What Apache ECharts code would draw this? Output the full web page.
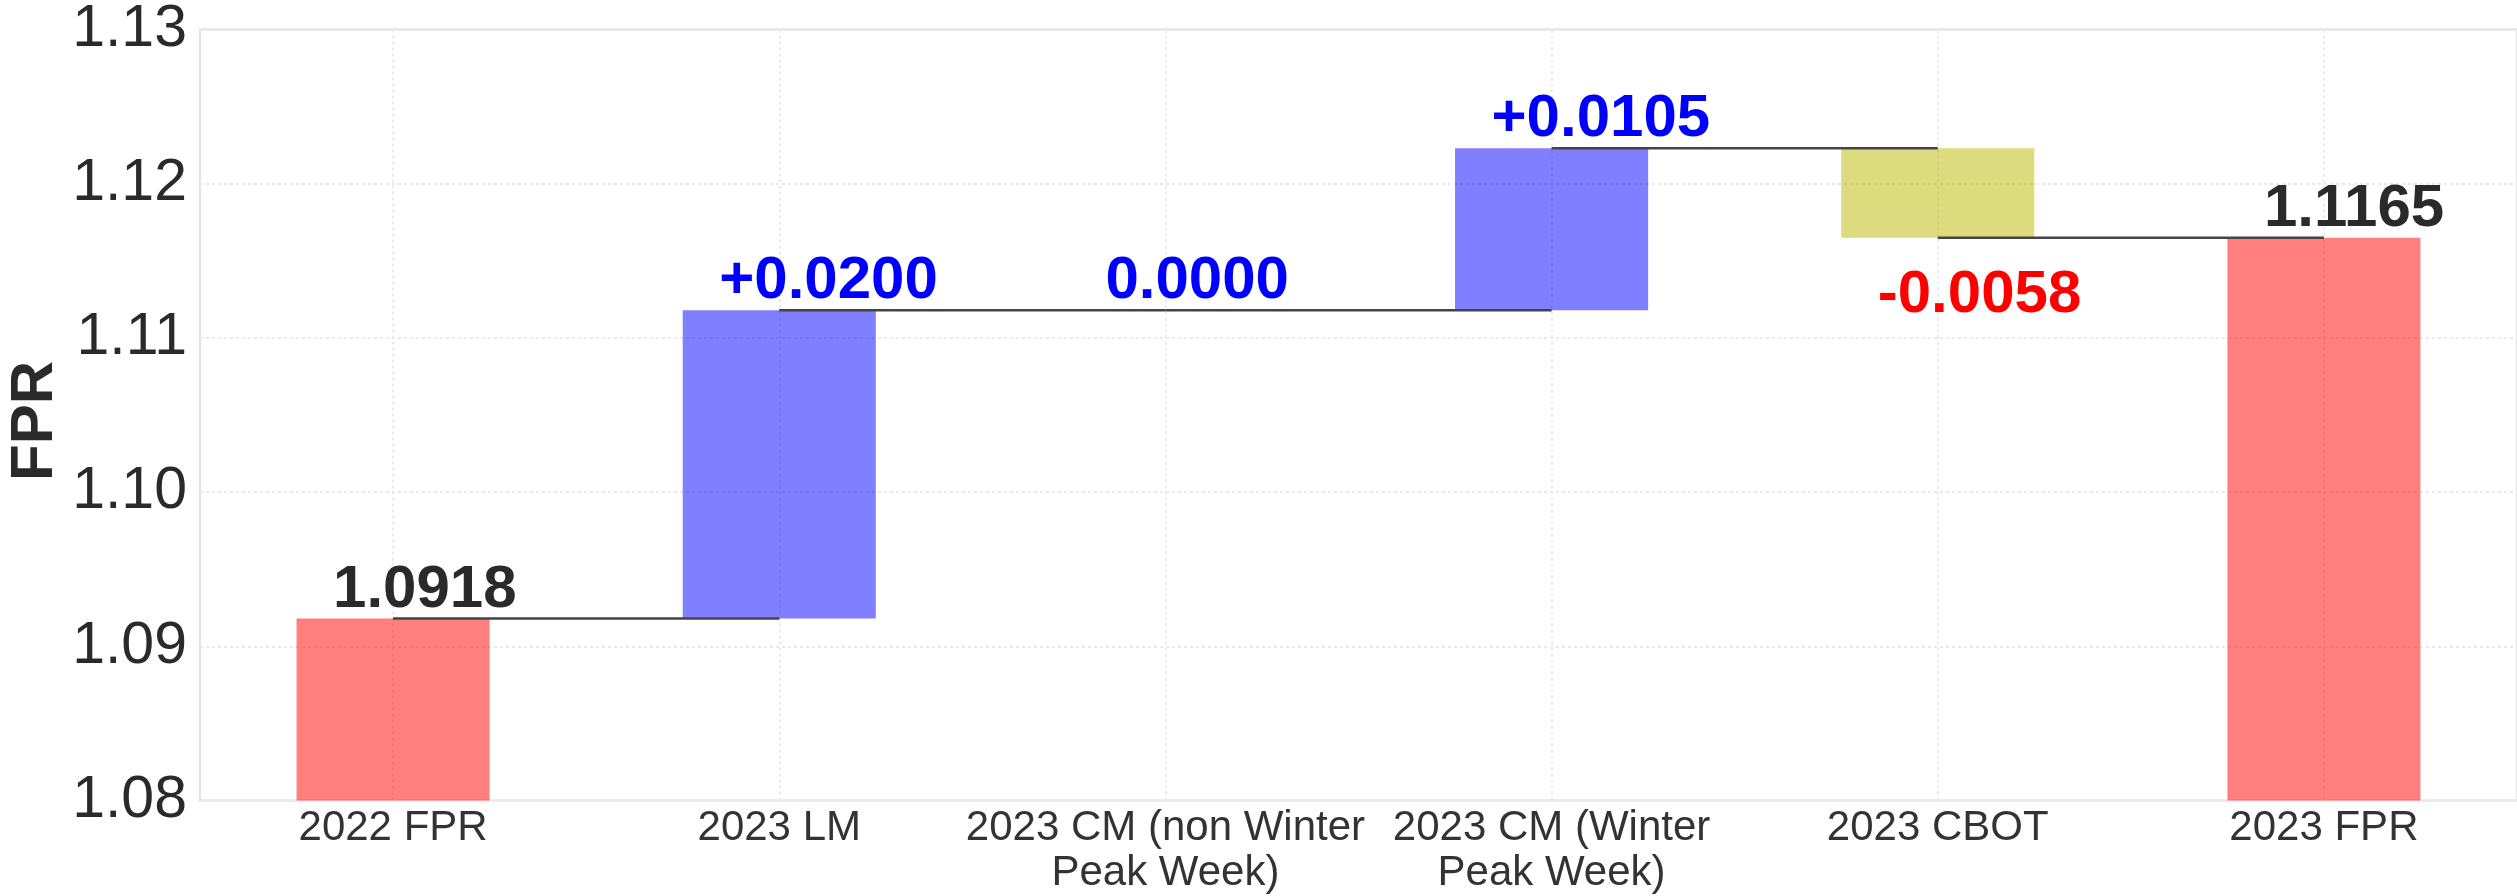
<!DOCTYPE html>
<html><head><meta charset="utf-8">
<script src="https://cdn.jsdelivr.net/npm/echarts@6/dist/echarts.min.js"></script>
<style>html,body{margin:0;padding:0;background:#fff}#c{width:2517px;height:896px}</style>
</head><body><div id="c"></div>
<script>
const categories = ['2022 FPR', '2023 LM', '2023 CM (non Winter\nPeak Week)', '2023 CM (Winter\nPeak Week)', '2023 CBOT', '2023 FPR'];
const measures = ['total', 'relative', 'relative', 'relative', 'relative', 'total'];
const values = [1.0918, 0.0200, 0.0000, 0.0105, -0.0058, 1.1165];
const yTicks = [1.08, 1.09, 1.10, 1.11, 1.12, 1.13];

const Y_MIN = yTicks[0], Y_MAX = yTicks[yTicks.length - 1];
const FONT = '"Liberation Sans", Arial, sans-serif';

let running = 0;
const bars = values.map((v, i) => {
  let lo, hi, end, kind;
  if (measures[i] === 'total') {
    lo = Y_MIN; hi = v; end = v; kind = 'total'; running = v;
  } else {
    const start = running; end = +(running + v).toFixed(6);
    lo = Math.min(start, end); hi = Math.max(start, end); running = end;
    kind = v < 0 ? 'dec' : 'inc';
  }
  const text = measures[i] === 'total' ? v.toFixed(4) : (v > 0 ? '+' : '') + v.toFixed(4);
  return { i, lo, hi, end, kind, text };
});
const connectors = bars.slice(0, -1).map(b => [b.i, b.end]);

const fills = { total: 'rgba(255,0,0,0.5)', inc: 'rgba(0,0,255,0.5)', dec: 'rgba(186,186,0,0.5)' };
const textColors = { total: '#2a2a2a', inc: '#0000ff', dec: '#ff0000' };

const chart = echarts.init(document.getElementById('c'), null, { renderer: 'canvas' });
chart.setOption({
  backgroundColor: '#ffffff',
  animation: false,
  grid: { left: 200, top: 29.5, width: 2326, height: 771, show: true, borderColor: '#e6e6e6', borderWidth: 2.5, backgroundColor: 'transparent' },
  xAxis: {
    type: 'category', data: categories,
    axisLine: { show: false }, axisTick: { show: false },
    axisLabel: { interval: 0, fontFamily: FONT, fontSize: 42, color: '#333333', lineHeight: 45, margin: 5 },
    splitLine: { show: true, alignWithLabel: true, lineStyle: { color: '#ebebeb', width: 2, type: [3, 3] } }
  },
  yAxis: {
    type: 'value', min: Y_MIN, max: Y_MAX, interval: 0.01,
    axisLine: { show: false }, axisTick: { show: false },
    axisLabel: { fontFamily: FONT, fontSize: 59, color: '#2a2a2a', margin: 13, formatter: v => v.toFixed(2) },
    splitLine: { show: true, lineStyle: { color: '#e9e9e9', width: 2, type: [3, 3] } }
  },
  graphic: [{
    type: 'text', x: 35, y: 421, rotation: Math.PI / 2,
    style: { text: 'FPR', font: 'bold 60px ' + FONT, fill: '#2a2a2a', align: 'center', verticalAlign: 'middle' }
  }],
  series: [
    {
      type: 'custom', z: 2,
      data: bars.map(b => [b.i, b.lo, b.hi, b.end]),
      encode: { x: 0, y: [1, 2] },
      renderItem: (params, api) => {
        const b = bars[params.dataIndex];
        const i = api.value(0);
        const pTop = api.coord([i, api.value(2)]);
        const pBot = api.coord([i, api.value(1)]);
        const pEnd = api.coord([i, api.value(3)]);
        const w = api.size([1, 0])[0] * 0.5;
        const ty = b.kind === 'dec' ? pEnd[1] + 57.5 : pTop[1] - 28.5;
        return {
          type: 'group',
          children: [
            { type: 'rect', shape: { x: pTop[0] - w / 2, y: pTop[1], width: w, height: pBot[1] - pTop[1] }, style: { fill: fills[b.kind] } },
            { type: 'text', x: pTop[0] - 60, y: ty, z2: 10, style: { text: b.text, font: 'bold 60px ' + FONT, fill: textColors[b.kind], align: 'left', verticalAlign: 'middle' } }
          ]
        };
      }
    },
    {
      type: 'custom', z: 3,
      data: connectors,
      encode: { x: 0, y: 1 },
      renderItem: (params, api) => {
        const i = api.value(0), lvl = api.value(1);
        const a = api.coord([i, lvl]);
        const b = api.coord([i + 1, lvl]);
        return { type: 'line', shape: { x1: a[0], y1: a[1], x2: b[0], y2: b[1] }, style: { stroke: '#444444', lineWidth: 2.5 } };
      }
    }
  ]
});
</script>
</body></html>
